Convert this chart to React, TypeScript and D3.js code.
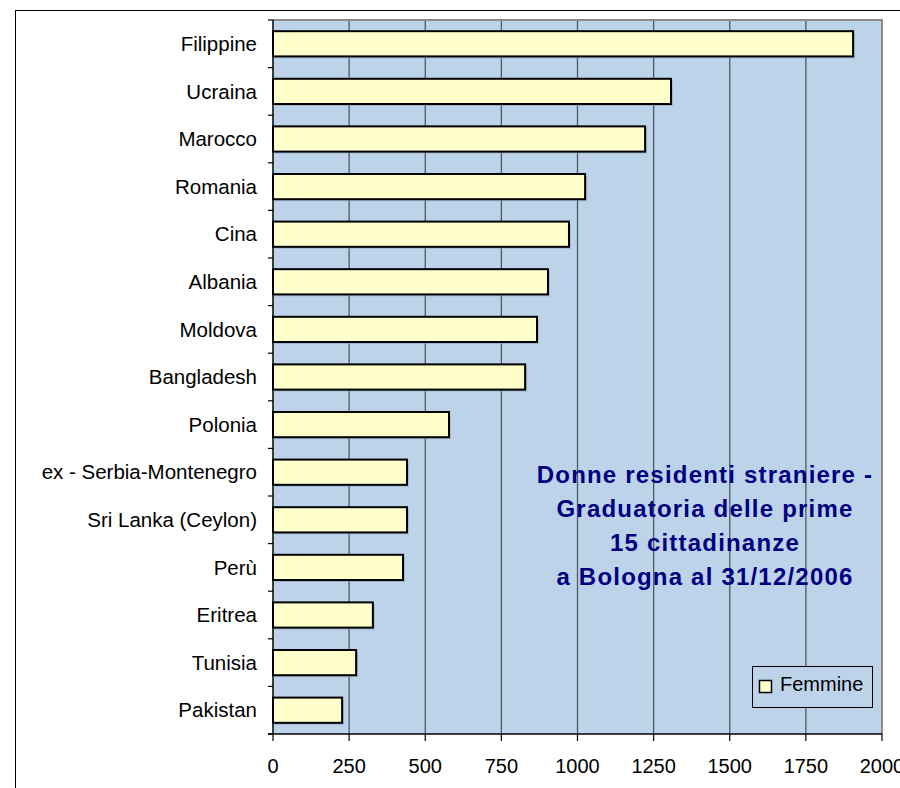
import React from "react";
import * as d3 from "d3";

const categories = [
  "Filippine", "Ucraina", "Marocco", "Romania", "Cina", "Albania", "Moldova",
  "Bangladesh", "Polonia", "ex - Serbia-Montenegro", "Sri Lanka (Ceylon)",
  "Perù", "Eritrea", "Tunisia", "Pakistan",
];
const femmine = [1905, 1307, 1222, 1025, 972, 903, 867, 828, 578, 440, 440, 427, 328, 273, 227];
const xTicks = [0, 250, 500, 750, 1000, 1250, 1500, 1750, 2000];
const titleLines = [
  "Donne residenti straniere -",
  "Graduatoria delle prime",
  "15 cittadinanze",
  "a Bologna al 31/12/2006",
];
const seriesName = "Femmine";

const W = 900, H = 788;
const plot = { left: 273, right: 882, top: 20, bottom: 734 };
const FONT = "'Liberation Sans', Arial, sans-serif";

export default function App() {
  const x = d3.scaleLinear().domain([0, 2000]).range([plot.left, plot.right]);
  const y = d3.scaleBand().domain(categories).range([plot.top, plot.bottom]).paddingInner(0.47).paddingOuter(0.235);
  const band = d3.scaleBand().domain(categories).range([plot.top, plot.bottom]);
  const boundaries = [...categories.map((c) => band(c) as number), plot.bottom];

  return (
    <svg width={W} height={H} style={{ position: "absolute", left: 0, top: 0, background: "#fff" }}>
      {/* outer frame */}
      <rect x={15.5} y={10.5} width={W + 20} height={H + 20} fill="#fff" stroke="#000" strokeWidth={1} />
      {/* plot background */}
      <rect x={plot.left} y={plot.top} width={plot.right - plot.left} height={plot.bottom - plot.top} fill="#BDD3EA" />
      {/* gridlines */}
      {xTicks.slice(1, -1).map((t) => (
        <line key={"g" + t} x1={x(t)} x2={x(t)} y1={plot.top} y2={plot.bottom} stroke="#4F5964" strokeWidth={1.3} />
      ))}
      {/* plot border top/right */}
      <path d={`M${plot.left},${plot.top}H${plot.right}V${plot.bottom}`} fill="none" stroke="#8C8C8C" strokeWidth={2} />
      {/* bars */}
      {categories.map((c, i) => (
        <g key={c}>
          <rect x={x(0) + 2} y={(y(c) as number) + 2} width={x(femmine[i]) - x(0)} height={y.bandwidth()} fill="#8FA3B8" opacity={0.55} />
          <rect x={x(0)} y={y(c) as number} width={x(femmine[i]) - x(0)} height={y.bandwidth()} fill="#FFFFCC" stroke="#000" strokeWidth={2} />
        </g>
      ))}
      {/* left axis */}
      <line x1={plot.left} x2={plot.left} y1={plot.top} y2={plot.bottom} stroke="#000" strokeWidth={1.5} />
      {boundaries.map((b, i) => (
        <line key={"yt" + i} x1={plot.left - 5} x2={plot.left} y1={b} y2={b} stroke="#000" strokeWidth={1.2} />
      ))}
      {categories.map((c) => (
        <text key={"l" + c} x={257} y={(band(c) as number) + band.bandwidth() / 2} dy="0.35em" textAnchor="end" fontFamily={FONT} fontSize={20.5} fill="#000">
          {c}
        </text>
      ))}
      {/* bottom axis */}
      <line x1={plot.left - 5} x2={plot.right} y1={plot.bottom} y2={plot.bottom} stroke="#000" strokeWidth={1.5} />
      {xTicks.map((t) => (
        <g key={"xt" + t}>
          <line x1={x(t)} x2={x(t)} y1={plot.bottom} y2={plot.bottom + 7} stroke="#000" strokeWidth={1.2} />
          <text x={x(t)} y={773} textAnchor="middle" fontFamily={FONT} fontSize={20} fill="#000">{t}</text>
        </g>
      ))}
      {/* title */}
      {titleLines.map((l, i) => (
        <text key={"t" + i} x={705} y={483 + i * 34} textAnchor="middle" fontFamily={FONT} fontWeight="bold" fontSize={24} letterSpacing={1.2} fill="#000080">
          {l}
        </text>
      ))}
      {/* legend */}
      <rect x={752.5} y={666.5} width={120} height={41} fill="#BDD3EA" stroke="#000" strokeWidth={1} />
      <rect x={759.5} y={680.5} width={12} height={12} fill="#FFFFCC" stroke="#000" strokeWidth={1.5} />
      <text x={780} y={684} dy="0.35em" fontFamily={FONT} fontSize={20} fill="#000">{seriesName}</text>
    </svg>
  );
}
